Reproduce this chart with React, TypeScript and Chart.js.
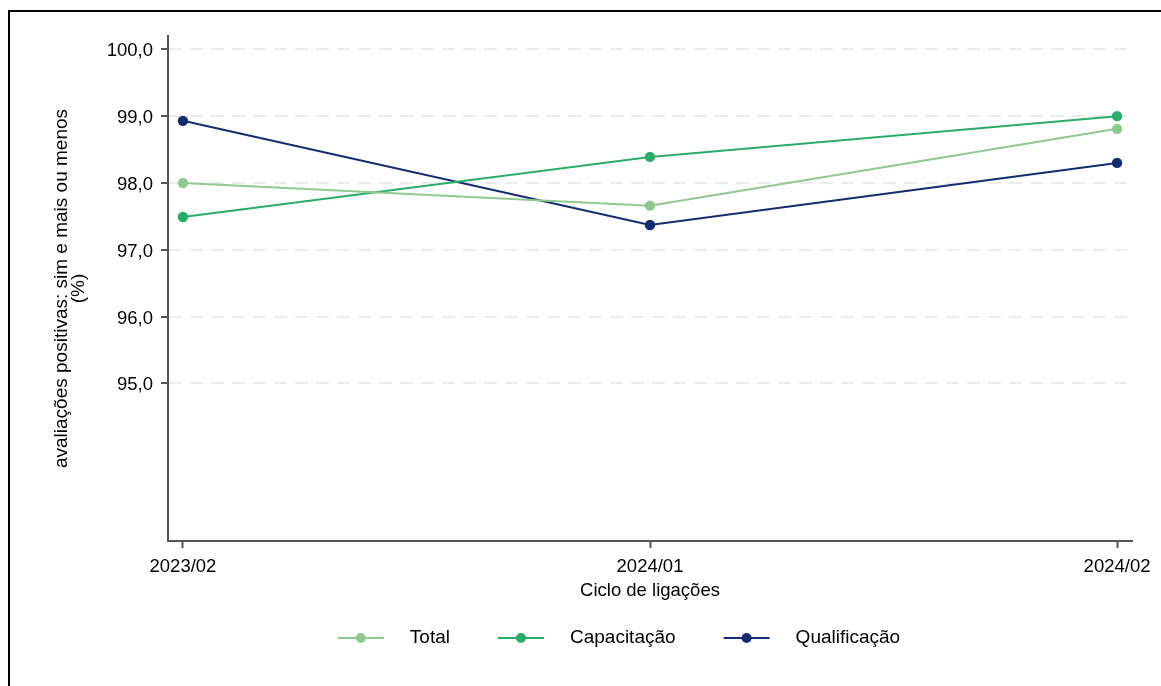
import React, { useEffect, useRef } from "react";
import { Chart, registerables } from "chart.js";

Chart.register(...registerables);

const categories = ["2023/02", "2024/01", "2024/02"];
const totalValues = [98.0, 97.66, 98.81];
const capacitacaoValues = [97.49, 98.39, 99.0];
const qualificacaoValues = [98.93, 97.37, 98.3];
const yTickValues = [95, 96, 97, 98, 99, 100];

const seriesNames = ["Total", "Capacitação", "Qualificação"];
const seriesColors = ["#90c98f", "#2bab6a", "#132c6b"];

const FONT = "'Liberation Sans', Arial, Helvetica, sans-serif";
const FS = 18.5;

const legendPlugin = {
  id: "customLegend",
  afterDraw(chart: any) {
    const ctx = chart.ctx;
    ctx.save();
    ctx.font = `${FS + 0.5}px ${FONT}`;
    const lineLen = 46;
    const gapText = 26;
    const gapItem = 48;
    const items = chart.data.datasets.map((d: any) => ({
      label: d.label,
      color: d.borderColor,
      w: ctx.measureText(d.label).width,
    }));
    const total = items.reduce((s: number, it: any) => s + lineLen + gapText + it.w, 0) + gapItem * (items.length - 1);
    const cx = 619;
    const y = 638;
    let x = cx - total / 2;
    items.forEach((it: any) => {
      ctx.strokeStyle = it.color;
      ctx.lineWidth = 2;
      ctx.beginPath();
      ctx.moveTo(x, y);
      ctx.lineTo(x + lineLen, y);
      ctx.stroke();
      ctx.fillStyle = it.color;
      ctx.beginPath();
      ctx.arc(x + lineLen / 2, y, 5, 0, Math.PI * 2);
      ctx.fill();
      ctx.fillStyle = "#000";
      ctx.textBaseline = "middle";
      ctx.textAlign = "left";
      ctx.fillText(it.label, x + lineLen + gapText, y);
      x += lineLen + gapText + it.w + gapItem;
    });
    ctx.restore();
  },
};

export default function App() {
  const canvasRef = useRef<HTMLCanvasElement | null>(null);

  useEffect(() => {
    if (!canvasRef.current) return;
    const valuesList = [totalValues, capacitacaoValues, qualificacaoValues];
    const chart = new Chart(canvasRef.current, {
      type: "line",
      data: {
        datasets: valuesList.map((vals, i) => ({
          label: seriesNames[i],
          data: vals.map((v, j) => ({ x: j, y: v })),
          borderColor: seriesColors[i],
          backgroundColor: seriesColors[i],
          pointBackgroundColor: seriesColors[i],
          pointBorderWidth: 0,
          pointRadius: 5.2,
          borderWidth: 2,
          tension: 0,
          fill: false,
        })),
      },
      options: {
        animation: false,
        responsive: false,
        devicePixelRatio: 1,
        layout: { padding: { left: 0, right: 29, top: 36, bottom: 75 } },
        plugins: {
          legend: { display: false },
          tooltip: { enabled: false },
        },
        scales: {
          x: {
            type: "linear",
            min: -0.032,
            max: 2.032,
            afterBuildTicks: (scale: any) => {
              scale.ticks = categories.map((_, i) => ({ value: i }));
            },
            afterFit: (scale: any) => {
              scale.height = 70;
            },
            ticks: {
              callback: (v: any) => categories[Number(v)] ?? "",
              color: "#000",
              font: { family: FONT, size: FS },
              padding: 8,
              maxRotation: 0,
              autoSkip: false,
            },
            grid: {
              drawOnChartArea: false,
              drawTicks: true,
              tickLength: 7,
              tickColor: "#555",
              tickWidth: 2,
            },
            border: { color: "#555", width: 2 },
            title: {
              display: true,
              text: "Ciclo de ligações",
              color: "#000",
              font: { family: FONT, size: FS },
              padding: { top: 0, bottom: 9 },
            },
          },
          y: {
            type: "linear",
            min: 92.64,
            max: 100.2,
            afterBuildTicks: (scale: any) => {
              scale.ticks = yTickValues.map((v) => ({ value: v }));
            },
            afterFit: (scale: any) => {
              scale.width = 168;
            },
            ticks: {
              callback: (v: any) => Number(v).toFixed(1).replace(".", ","),
              color: "#000",
              font: { family: FONT, size: FS },
              padding: 8,
              labelOffset: 2,
            },
            grid: {
              color: "#ebebeb",
              lineWidth: 2,
              tickLength: 7,
              tickColor: "#555",
              tickWidth: 2,
              tickBorderDash: [],
            },
            border: { color: "#555", width: 2, dash: [13, 8] },
            title: {
              display: true,
              text: ["avaliações positivas: sim e mais ou menos", "(%)"],
              color: "#000",
              font: { family: FONT, size: 19, lineHeight: 0.9 },
              padding: { top: 53, bottom: 0 },
            },
          },
        },
      },
      plugins: [legendPlugin],
    } as any);
    return () => chart.destroy();
  }, []);

  return (
    <div style={{ position: "fixed", left: 0, top: 0, width: 1161, height: 686, background: "#fff", overflow: "hidden" }}>
      <div
        style={{
          position: "absolute",
          left: 8,
          top: 10,
          right: 0,
          bottom: 0,
          borderTop: "2px solid #000",
          borderLeft: "2px solid #000",
        }}
      />
      <canvas ref={canvasRef} width={1161} height={686} style={{ position: "absolute", left: 0, top: 0 }} />
    </div>
  );
}
